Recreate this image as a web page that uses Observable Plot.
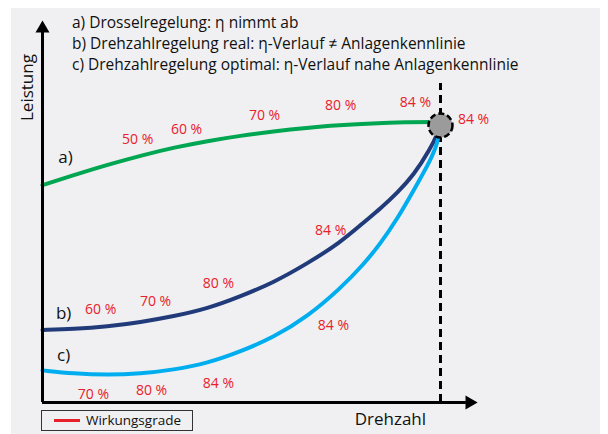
<!DOCTYPE html>
<html>
<head>
<meta charset="utf-8">
<script src="https://cdn.jsdelivr.net/npm/d3@7"></script>
<script src="https://cdn.jsdelivr.net/npm/@observablehq/plot@0.6"></script>
<style>
  html, body { margin: 0; padding: 0; background: #ffffff; }
  #wrap { position: relative; width: 608px; height: 434px; overflow: hidden; font-family: "Open Sans", Lato, sans-serif; }
  #bg { position: absolute; left: 11px; top: 8px; width: 589px; height: 426px; background: #f0f0f2; }
  #chart { position: absolute; left: 0; top: 0; }
  #head { position: absolute; left: 72px; top: 12px; font-size: 15.5px; line-height: 21px; color: #111; white-space: nowrap; }
  #legend { position: absolute; left: 41px; top: 410px; width: 152px; height: 21px; box-sizing: border-box; border: 1px solid #333; background: #f0f0f2; }
  #legend .sw { position: absolute; left: 12px; top: 8px; width: 26px; height: 2.5px; background: #e8202a; }
  #legend .lb { position: absolute; left: 44px; top: 0px; font-size: 13.5px; line-height: 18px; color: #111; }
</style>
</head>
<body>
<div id="wrap">
  <div id="bg"></div>
  <div id="chart"></div>
  <div id="head"></div>
  <div id="legend"><div class="sw"></div><div class="lb"></div></div>
</div>
<script>
// Header lines
const headerLines = [
  "a) Drosselregelung: η nimmt ab",
  "b) Drehzahlregelung real: η-Verlauf ≠ Anlagenkennlinie",
  "c) Drehzahlregelung optimal: η-Verlauf nahe Anlagenkennlinie"
];
const legendLabel = "Wirkungsgrade";
const xLabel = "Drehzahl";
const yLabel = "Leistung";

// Curve a) Drosselregelung (Drehzahl %, Leistung %)
const curveA_x = [0, 8.29, 16.58, 24.87, 33.17, 41.46, 49.75, 58.04, 66.33, 74.62, 82.91, 91.21, 100];
const curveA_y = [78.5, 82.3, 85.9, 89.2, 92.1, 94.4, 96.3, 97.9, 99.2, 100.1, 100.8, 101.2, 101.3];
// Curve b) Drehzahlregelung real
const curveB_x = [0, 7.79, 16.33, 24.62, 32.91, 41.46, 49.75, 58.04, 66.58, 74.87, 80.65, 84.92, 89.20, 93.22, 97.49, 99.25, 100];
const curveB_y = [26.2, 26.5, 27.4, 29.0, 31.1, 33.9, 38.3, 43.3, 50.2, 57.8, 65.0, 70.0, 75.8, 82.0, 91.7, 97.1, 100];
// Curve c) Drehzahlregelung optimal
const curveC_x = [0, 7.79, 16.33, 24.62, 32.91, 41.46, 49.75, 58.04, 66.58, 74.87, 80.65, 84.92, 89.20, 93.22, 97.49, 99.25, 100];
const curveC_y = [11.6, 10.4, 9.9, 10.4, 11.8, 14.2, 18.4, 23.5, 31.0, 41.2, 49.8, 57.4, 66.4, 76.5, 87.4, 93.5, 100];

// Efficiency labels (Wirkungsgrade)
const effText = ["50 %", "60 %", "70 %", "80 %", "84 %", "84 %",
                 "60 %", "70 %", "80 %", "84 %",
                 "70 %", "80 %", "84 %", "84 %"];
const effX = [23.9, 36.2, 55.8, 74.9, 93.7, 108.3,
              14.6, 28.4, 44.2, 72.4,
              12.8, 27.4, 44.2, 73.1];
const effY = [94.9, 98.6, 103.6, 107.2, 108.3, 102.2,
              33.6, 36.5, 43.0, 62.1,
              2.9, 4.3, 6.9, 27.8];

// Curve name labels
const curveNames = ["a)", "b)", "c)"];
const curveNameX = [5.8, 5.3, 5.3];
const curveNameY = [88.4, 32.1, 17.0];

// Operating point and axis extents
const opX = [100];
const opY = [100];
const axisXEnd = 106.5, axisXTip = 107.3;
const axisYEnd = 133.6, axisYTip = 135.0;
const dashTop = 115.2;
const xLabelPos = [87.4, -6.1];
const yLabelPos = [-3.8, 113.7];

const colors = { a: "#00a651", b: "#213a7a", c: "#00aeef", eff: "#e8202a", op: "#9b9b9b" };

const toPts = (xs, ys) => xs.map((x, i) => ({ x, y: ys[i] }));
const A = toPts(curveA_x, curveA_y);
const B = toPts(curveB_x, curveB_y);
const C = toPts(curveC_x, curveC_y);
const eff = effText.map((t, i) => ({ t, x: effX[i], y: effY[i] }));
const names = curveNames.map((t, i) => ({ t, x: curveNameX[i], y: curveNameY[i] }));

const font = "'Open Sans', Lato, sans-serif";

const chart = Plot.plot({
  width: 608,
  height: 434,
  style: { background: "transparent", fontFamily: font, overflow: "visible" },
  x: { domain: [0, 100], range: [42, 440], axis: null },
  y: { domain: [0, 100], range: [402, 125], axis: null },
  marks: [
    // dashed nominal speed line
    Plot.ruleX(opX, { y1: 0, y2: dashTop, stroke: "#000", strokeWidth: 3, strokeDasharray: "8,5" }),
    // curves
    Plot.line(A, { x: "x", y: "y", curve: "basis", stroke: colors.a, strokeWidth: 4 }),
    Plot.line(B, { x: "x", y: "y", curve: "basis", stroke: colors.b, strokeWidth: 4 }),
    Plot.line(C, { x: "x", y: "y", curve: "basis", stroke: colors.c, strokeWidth: 4 }),
    // axes
    Plot.ruleX([0], { y1: 0, y2: axisYEnd, stroke: "#000", strokeWidth: 3 }),
    Plot.ruleY([0], { x1: 0, x2: axisXEnd, stroke: "#000", strokeWidth: 3 }),
    Plot.dot([{ x: 0, y: axisYTip }], { x: "x", y: "y", symbol: "triangle", r: 5.2, fill: "#000", stroke: null }),
    Plot.dot([{ x: axisXTip, y: 0 }], { x: "x", y: "y", symbol: "triangle", r: 5.2, fill: "#000", stroke: null, rotate: 90 }),
    // operating point
    Plot.dot(toPts(opX, opY), { x: "x", y: "y", r: 12, fill: colors.op, stroke: "#000", strokeWidth: 2.5, strokeDasharray: "6,3" }),
    // labels
    Plot.text(eff, { x: "x", y: "y", text: "t", fill: colors.eff, fontSize: 14, textAnchor: "middle", lineAnchor: "middle" }),
    Plot.text(names, { x: "x", y: "y", text: "t", fill: "#111", fontSize: 17, textAnchor: "middle", lineAnchor: "middle" }),
    Plot.text([xLabel], { x: xLabelPos[0], y: xLabelPos[1], text: d => d, fill: "#111", fontSize: 17, textAnchor: "middle", lineAnchor: "middle" }),
    Plot.text([yLabel], { x: yLabelPos[0], y: yLabelPos[1], text: d => d, fill: "#111", fontSize: 17, rotate: -90, textAnchor: "middle", lineAnchor: "middle" })
  ]
});
document.getElementById("chart").appendChild(chart);
document.getElementById("head").innerHTML = headerLines.map(l => `<div>${l}</div>`).join("");
document.querySelector("#legend .lb").textContent = legendLabel;
</script>
</body>
</html>
